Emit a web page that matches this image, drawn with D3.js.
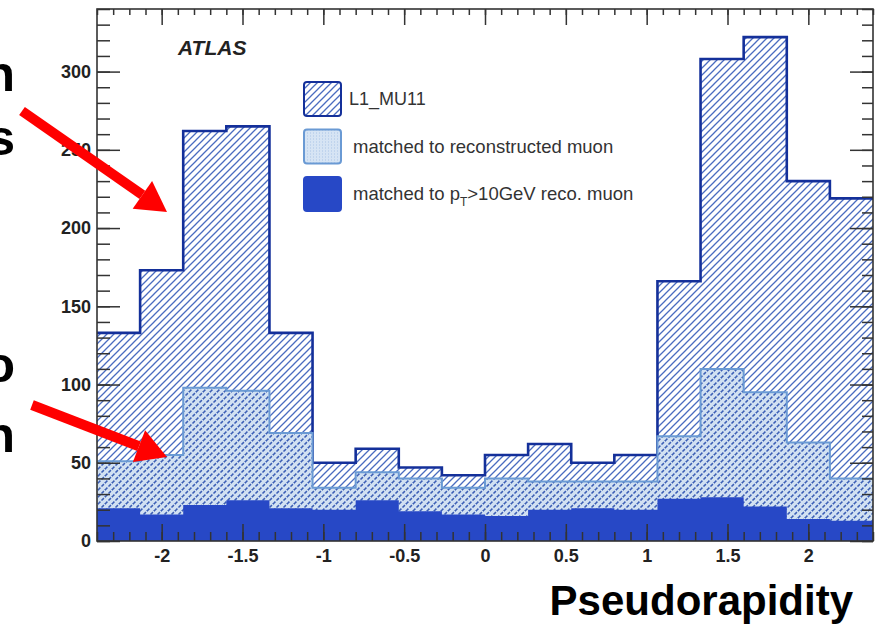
<!DOCTYPE html>
<html>
<head>
<meta charset="utf-8">
<script src="https://cdn.jsdelivr.net/npm/d3@7"></script>
<style>
  html, body { margin: 0; padding: 0; background: #ffffff; }
  svg { display: block; }
  text { font-family: "Liberation Sans", Arial, Helvetica, sans-serif; }
</style>
</head>
<body>
<svg id="chart" width="882" height="626"></svg>
<script>
// Bin edges in pseudorapidity (18 bins)
const etaEdges = [-2.4, -2.1333, -1.8667, -1.6, -1.3333, -1.0667, -0.8, -0.5333, -0.2667,
                  0, 0.2667, 0.5333, 0.8, 1.0667, 1.3333, 1.6, 1.8667, 2.1333, 2.4];
// L1_MU11 trigger counts
const l1Counts      = [133, 173, 262, 265, 133, 50, 59, 47, 42, 55, 62, 50, 55, 166, 308, 322, 230, 219];
// matched to reconstructed muon
const matchedCounts = [51, 55, 98, 96, 69, 34, 44, 40, 34, 40, 38, 38, 38, 67, 110, 95, 63, 40];
// matched to pT > 10 GeV reconstructed muon
const matchedPtCounts = [21, 17, 23, 26, 21, 20, 26, 19, 17, 16, 20, 21, 20, 27, 28, 22, 14, 13];

const xMajorTicks = [-2, -1.5, -1, -0.5, 0, 0.5, 1, 1.5, 2];
const xTickLabels = ["-2", "-1.5", "-1", "-0.5", "0", "0.5", "1", "1.5", "2"];
const yMajorTicks = [0, 50, 100, 150, 200, 250, 300];
const yTickLabels = ["0", "50", "100", "150", "200", "250", "300"];
const legendLabels = ["L1_MU11", "matched to reconstructed muon", "matched to p_T>10GeV reco. muon"];
const slideFragments = [["n", "s"], ["o", "n"]];

const svg = d3.select("#chart");
const plot = { left: 97, right: 873, top: 9, bottom: 541 };

const x = d3.scaleLinear().domain([-2.4, 2.4]).range([plot.left, plot.right]);
const y = d3.scaleLinear().domain([0, 340]).range([plot.bottom, plot.top]);

const defs = svg.append("defs");
defs.append("clipPath").attr("id", "plotClip")
  .append("rect").attr("x", plot.left).attr("y", plot.top)
  .attr("width", plot.right - plot.left).attr("height", plot.bottom - plot.top);

// Diagonal hatch on white for the trigger histogram
const hatch = defs.append("pattern").attr("id", "hatch")
  .attr("patternUnits", "userSpaceOnUse").attr("width", 7).attr("height", 7);
hatch.append("rect").attr("width", 7).attr("height", 7).attr("fill", "#ffffff");
hatch.append("path").attr("d", "M-1,1 l2,-2 M0,7 l7,-7 M6,8 l2,-2")
  .attr("stroke", "#4a6cc0").attr("stroke-width", 1.3);

// Light dotted fill with the hatch showing through as dashes
const lightHatch = defs.append("pattern").attr("id", "lightHatch")
  .attr("patternUnits", "userSpaceOnUse").attr("width", 7).attr("height", 7);
lightHatch.append("rect").attr("width", 7).attr("height", 7).attr("fill", "#d2e1f2");
lightHatch.append("path").attr("d", "M0,7 l7,-7")
  .attr("stroke", "#3b5eb5").attr("stroke-width", 1.5).attr("stroke-dasharray", "3.4 1.55");
lightHatch.append("path").attr("d", "M-1,1 l2,-2 M6,8 l2,-2")
  .attr("stroke", "#3b5eb5").attr("stroke-width", 1.5);

// Light dotted fill used for the legend swatch
const lightDots = defs.append("pattern").attr("id", "lightDots")
  .attr("patternUnits", "userSpaceOnUse").attr("width", 3).attr("height", 3);
lightDots.append("rect").attr("width", 3).attr("height", 3).attr("fill", "#d6e4f4");
lightDots.append("rect").attr("width", 1).attr("height", 1).attr("fill", "#a9c3e6");

function stepPoints(vals) {
  const pts = vals.map((v, i) => [etaEdges[i], v]);
  pts.push([etaEdges[etaEdges.length - 1], vals[vals.length - 1]]);
  return pts;
}
const area = d3.area().curve(d3.curveStepAfter)
  .x(d => x(d[0])).y0(y(0)).y1(d => y(d[1]));
const line = d3.line().curve(d3.curveStepAfter)
  .x(d => x(d[0])).y(d => y(d[1]));

const hist = svg.append("g").attr("clip-path", "url(#plotClip)");

// L1_MU11
hist.append("path").attr("d", area(stepPoints(l1Counts))).attr("fill", "url(#hatch)");
hist.append("path").attr("d", line(stepPoints(l1Counts)))
  .attr("fill", "none").attr("stroke", "#14309a").attr("stroke-width", 2.6);

// matched to reconstructed muon
hist.append("path").attr("d", area(stepPoints(matchedCounts))).attr("fill", "url(#lightHatch)");
hist.append("path").attr("d", line(stepPoints(matchedCounts)))
  .attr("fill", "none").attr("stroke", "#6a9ad4").attr("stroke-width", 2);

// matched to pT>10GeV reco. muon
hist.append("path").attr("d", area(stepPoints(matchedPtCounts))).attr("fill", "#2748c6");

// Axes: ticks point inward on all four sides
const axisColor = "#333333";
function styleAxis(g) {
  g.select(".domain").remove();
  g.selectAll(".tick line").attr("stroke", axisColor).attr("stroke-width", 1.5);
  g.selectAll("text").attr("fill", "#222").attr("font-weight", "bold").attr("font-size", 18);
}
const yMinor = d3.range(0, 341, 10);
const xMinor = d3.range(-24, 25, 1).map(v => v / 10);

svg.append("g").attr("transform", `translate(${plot.left},0)`)
  .call(d3.axisLeft(y).tickValues(yMinor).tickSize(-13).tickFormat(""))
  .call(styleAxis);
svg.append("g").attr("transform", `translate(${plot.left},0)`)
  .call(d3.axisLeft(y).tickValues(yMajorTicks).tickSize(-23).tickPadding(6)
    .tickFormat((d, i) => yTickLabels[i]))
  .call(styleAxis);
svg.append("g").attr("transform", `translate(${plot.right},0)`)
  .call(d3.axisRight(y).tickValues(yMinor).tickSize(-11).tickFormat(""))
  .call(styleAxis);
svg.append("g").attr("transform", `translate(${plot.right},0)`)
  .call(d3.axisRight(y).tickValues(yMajorTicks).tickSize(-23).tickFormat(""))
  .call(styleAxis);
svg.append("g").attr("transform", `translate(0,${plot.bottom})`)
  .call(d3.axisBottom(x).tickValues(xMinor).tickSize(-9).tickFormat(""))
  .call(styleAxis);
svg.append("g").attr("transform", `translate(0,${plot.bottom})`)
  .call(d3.axisBottom(x).tickValues(xMajorTicks).tickSize(-17).tickPadding(8)
    .tickFormat((d, i) => xTickLabels[i]))
  .call(styleAxis);
svg.append("g").attr("transform", `translate(0,${plot.top})`)
  .call(d3.axisTop(x).tickValues(xMinor).tickSize(-6).tickFormat(""))
  .call(styleAxis);
svg.append("g").attr("transform", `translate(0,${plot.top})`)
  .call(d3.axisTop(x).tickValues(xMajorTicks).tickSize(-16).tickFormat(""))
  .call(styleAxis);

// Frame
svg.append("rect").attr("x", plot.left).attr("y", plot.top)
  .attr("width", plot.right - plot.left).attr("height", plot.bottom - plot.top)
  .attr("fill", "none").attr("stroke", axisColor).attr("stroke-width", 1.6);

// ATLAS label
svg.append("text").attr("x", 178).attr("y", 55)
  .attr("font-size", 21).attr("font-weight", "bold").attr("font-style", "italic")
  .attr("fill", "#222").text("ATLAS");

// Legend
const legend = svg.append("g").attr("transform", "translate(304,82)");
const swatchFills = ["url(#hatch)", "url(#lightDots)", "#2748c6"];
const swatchStrokes = ["#14309a", "#6a9ad4", "#2748c6"];
const legendRows = legend.selectAll("g").data(legendLabels).join("g")
  .attr("transform", (d, i) => `translate(0,${i * 47.5})`);
legendRows.append("rect").attr("width", 37).attr("height", 34).attr("rx", 3)
  .attr("fill", (d, i) => swatchFills[i]).attr("stroke", (d, i) => swatchStrokes[i])
  .attr("stroke-width", 2);
legendRows.each(function (d, i) {
  const t = d3.select(this).append("text")
    .attr("x", i === 0 ? 45 : 49).attr("y", 23)
    .attr("font-size", i === 0 ? 18 : 18.5).attr("fill", "#333");
  if (d.includes("p_T")) {
    const [pre, post] = d.split("p_T");
    t.append("tspan").text(pre + "p");
    t.append("tspan").attr("dy", 6).attr("font-size", 12).text("T");
    t.append("tspan").attr("dy", -6).text(post);
  } else {
    t.text(d);
  }
});

// Axis title
svg.append("text").attr("x", 853).attr("y", 615).attr("text-anchor", "end")
  .attr("font-size", 42).attr("font-weight", "bold").attr("fill", "#000")
  .text("Pseudorapidity");

// Fragments of surrounding slide text at the left edge
const fragBaselines = [[91, 155], [382, 452]];
slideFragments.forEach((col, j) => {
  col.forEach((ch, k) => {
    svg.append("text").attr("x", 15).attr("y", fragBaselines[j][k])
      .attr("text-anchor", "end").attr("font-size", 50).attr("font-weight", "bold")
      .attr("fill", "#000").text(ch);
  });
});

// Red pointer arrows
const arrows = [
  { x1: 22, y1: 111, x2: 167, y2: 212 },
  { x1: 32, y1: 405, x2: 167, y2: 457 }
];
arrows.forEach(a => {
  const ang = Math.atan2(a.y2 - a.y1, a.x2 - a.x1);
  const headLen = 30, headHalf = 17;
  const bx = a.x2 - headLen * Math.cos(ang), by = a.y2 - headLen * Math.sin(ang);
  svg.append("line").attr("x1", a.x1).attr("y1", a.y1).attr("x2", bx).attr("y2", by)
    .attr("stroke", "#ff0000").attr("stroke-width", 10);
  const px = -Math.sin(ang), py = Math.cos(ang);
  svg.append("path")
    .attr("d", `M${a.x2},${a.y2} L${bx + headHalf * px},${by + headHalf * py} L${bx - headHalf * px},${by - headHalf * py} Z`)
    .attr("fill", "#ff0000");
});
</script>
</body>
</html>
